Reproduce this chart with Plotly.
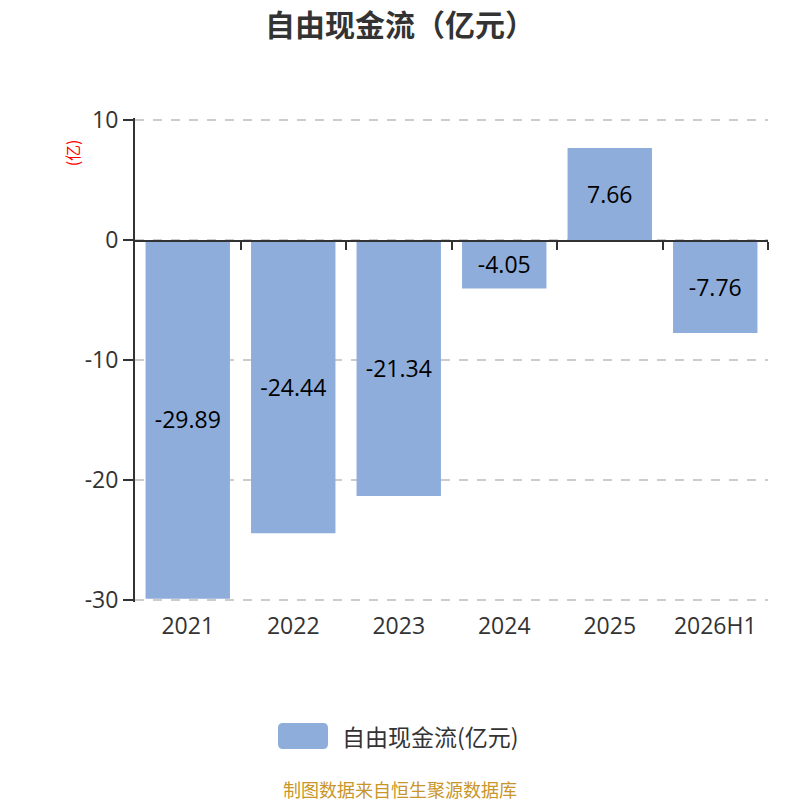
import plotly.graph_objects as go

# 数据
years = ['2021', '2022', '2023', '2024', '2025', '2026H1']
fcf = [-29.89, -24.44, -21.34, -4.05, 7.66, -7.76]
bar_labels = [f"{v:.2f}" for v in fcf]
boundaries = [0.5, 1.5, 2.5, 3.5, 4.5, 5.5]
y_ticks = [10, 0, -10, -20, -30]
y_ticktext = [str(v) for v in y_ticks]
series_name = '自由现金流(亿元)'

FONT = "Open Sans, Noto Sans CJK SC, sans-serif"
CJK_FONT = "Noto Sans CJK SC, sans-serif"
BAR_COLOR = '#8EADDA'
AXIS_COLOR = '#333333'

fig = go.Figure()

fig.add_trace(go.Bar(
    x=list(range(len(years))),
    y=fcf,
    text=bar_labels,
    textposition='inside',
    insidetextanchor='middle',
    textfont=dict(size=23, color='#000000', family=FONT),
    marker=dict(color=BAR_COLOR, line=dict(width=0)),
    width=0.8,
    name=series_name,
    showlegend=False,
))

# invisible trace so the zero-level category axis is drawn
fig.add_trace(go.Scatter(
    x=[0], y=[0], xaxis='x2', yaxis='y',
    mode='markers', marker=dict(opacity=0),
    showlegend=False, hoverinfo='skip',
))

# legend swatch (rounded) drawn next to the legend text
LEGEND_Y = -0.277
swatch = dict(
    type='path', xref='paper', yref='paper',
    xsizemode='pixel', ysizemode='pixel',
    xanchor=0.2654, yanchor=LEGEND_Y,
    path='M -20,-13 L 20,-13 Q 25,-13 25,-8 L 25,8 Q 25,13 20,13 '
         'L -20,13 Q -25,13 -25,8 L -25,-8 Q -25,-13 -20,-13 Z',
    fillcolor=BAR_COLOR, line=dict(width=0),
)

fig.update_layout(
    width=792, height=792,
    paper_bgcolor='white', plot_bgcolor='white',
    font=dict(family=FONT, color=AXIS_COLOR),
    title=dict(
        text='<b>自由现金流（亿元）</b>',
        xref='container', yref='container',
        x=0.495, xanchor='center', y=0.978, yanchor='middle',
        font=dict(size=30, color=AXIS_COLOR, family=CJK_FONT),
    ),
    margin=dict(l=127, r=32, t=110, b=198),
    showlegend=False,
    xaxis=dict(
        range=[-0.5, 5.5],
        tickvals=list(range(len(years))),
        ticktext=years,
        showline=False, showgrid=False, zeroline=False,
        ticks='',
        tickfont=dict(size=23, color=AXIS_COLOR),
        ticklabelstandoff=8,
    ),
    xaxis2=dict(
        overlaying='x', anchor='free', position=0.7458,
        range=[-0.5, 5.5],
        tickvals=boundaries,
        showticklabels=False,
        showline=True, linecolor=AXIS_COLOR, linewidth=2,
        ticks='outside', ticklen=8, tickwidth=2, tickcolor=AXIS_COLOR,
        showgrid=False, zeroline=False,
    ),
    yaxis=dict(
        range=[-30.17, 10.17],
        tickvals=y_ticks,
        ticktext=y_ticktext,
        showline=True, linecolor=AXIS_COLOR, linewidth=2,
        ticks='outside', ticklen=10, tickwidth=2, tickcolor=AXIS_COLOR,
        showgrid=True, gridcolor='#CCCCCC', griddash='dash', gridwidth=1.5,
        zeroline=False,
        tickfont=dict(size=23, color=AXIS_COLOR),
    ),
    shapes=[swatch],
    annotations=[
        dict(text=series_name, xref='paper', yref='paper',
             x=0.3239, y=LEGEND_Y, xanchor='left', yanchor='middle',
             showarrow=False, font=dict(size=23, color=AXIS_COLOR, family=CJK_FONT)),
        dict(text='(亿)', textangle=-90, xref='paper', yref='paper',
             x=-0.0995, y=0.927, xanchor='center', yanchor='middle',
             showarrow=False, font=dict(size=16, color='#FF0000', family=CJK_FONT)),
        dict(text='制图数据来自恒生聚源数据库', xref='paper', yref='paper',
             x=0.4186, y=-0.387, xanchor='center', yanchor='middle',
             showarrow=False, font=dict(size=18, color='#C8962A', family=CJK_FONT)),
    ],
)

fig.write_html("out.html")
